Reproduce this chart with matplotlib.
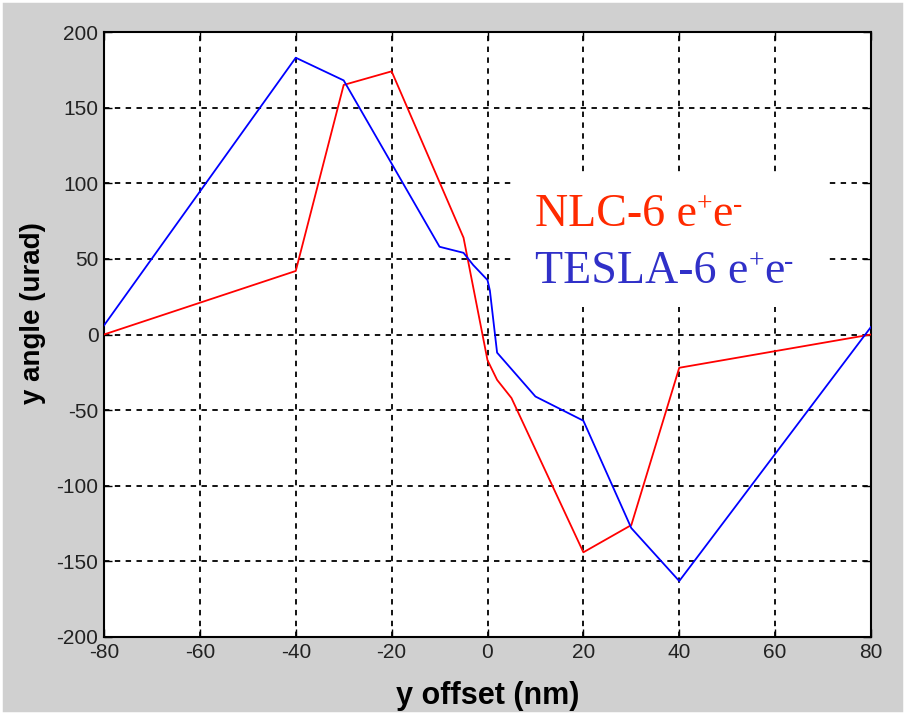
import matplotlib
matplotlib.use("Agg")
import matplotlib.pyplot as plt
from matplotlib.patches import Rectangle
from matplotlib import font_manager

# ---- data ----
nlc_x = [-80, -40, -30, -20, -5, 0, 2, 5, 20, 30, 40, 80]
nlc_y = [0, 42, 165, 174, 64, -17, -30, -42, -144, -126, -22, 0]
tesla_x = [-80, -40, -30, -10, -5, -3, 0, 0.5, 2, 10, 20, 30, 40, 80]
tesla_y = [6, 183, 168, 58, 54, 46, 36, 29, -12, -41, -57, -128, -163, 5]
xticks = [-80, -60, -40, -20, 0, 20, 40, 60, 80]
yticks = [-200, -150, -100, -50, 0, 50, 100, 150, 200]
nlc_main = 'NLC-6 e'
tesla_main = 'TESLA-6 e'

plt.rcParams['axes.unicode_minus'] = False

names = {f.name for f in font_manager.fontManager.ttflist}
narrow = None
for cand in ['Liberation Sans Narrow', 'Arial Narrow']:
    if cand in names:
        narrow = cand
        break
tick_family = [narrow] if narrow else ['Liberation Sans']

fig = plt.figure(figsize=(9.06, 7.15), dpi=100, facecolor='#d0d0d0')
ax = fig.add_axes([104/906, 78/715, 767/906, 605/715])
ax.set_facecolor('white')

ax.plot(nlc_x, nlc_y, color='#ff0000', lw=1.3, zorder=3)
ax.plot(tesla_x, tesla_y, color='#0000ff', lw=1.3, zorder=3)

ax.set_xlim(-80, 80)
ax.set_ylim(-200, 200)
ax.set_xticks(xticks)
ax.set_yticks(yticks)
ax.grid(True, color='black', linestyle=(0, (3, 3)), linewidth=1.3)
ax.tick_params(direction='in', length=6, width=1, top=True, right=True,
               labelsize=15, colors='black', pad=4)
for lab in ax.get_xticklabels() + ax.get_yticklabels():
    lab.set_family(tick_family)
    lab.set_color('#222222')
for s in ax.spines.values():
    s.set_linewidth(1.5)

ax.set_xlabel('y offset (nm)', fontsize=22, family='Liberation Sans', fontweight='bold')
ax.xaxis.set_label_coords(0.5, -0.072)
ax.set_ylabel('y angle (urad)', fontsize=20, family='Liberation Sans', fontweight='bold')
ax.yaxis.set_label_coords(-0.075, 0.535)

# annotation box
ax.add_patch(Rectangle((0.533, 0.545), 0.407, 0.222, transform=ax.transAxes,
                       facecolor='white', edgecolor='none', zorder=4))

def label(y, main, color):
    big = dict(fontsize=33, family='Liberation Serif', color=color, zorder=5)
    small = dict(fontsize=20, family='Liberation Serif', color=color, zorder=5)
    t1 = ax.text(0.562, y, main, transform=ax.transAxes, va='bottom', **big)
    t2 = ax.annotate('+', xy=(1, 0), xycoords=t1, xytext=(0, 13),
                     textcoords='offset points', va='bottom', **small)
    t3 = ax.annotate('e', xy=(1, 0), xycoords=(t2, t1), va='bottom', **big)
    ax.annotate('-', xy=(1, 0), xycoords=t3, xytext=(0, 13),
                textcoords='offset points', va='bottom', **small)

label(0.663, nlc_main, '#ff2a00')
label(0.569, tesla_main, '#3030c8')

# thin white border around the image
fig.add_artist(Rectangle((0, 0), 1, 1, transform=fig.transFigure, fill=False,
                         edgecolor='white', linewidth=4))

fig.savefig('out.png', dpi=100, facecolor=fig.get_facecolor())
